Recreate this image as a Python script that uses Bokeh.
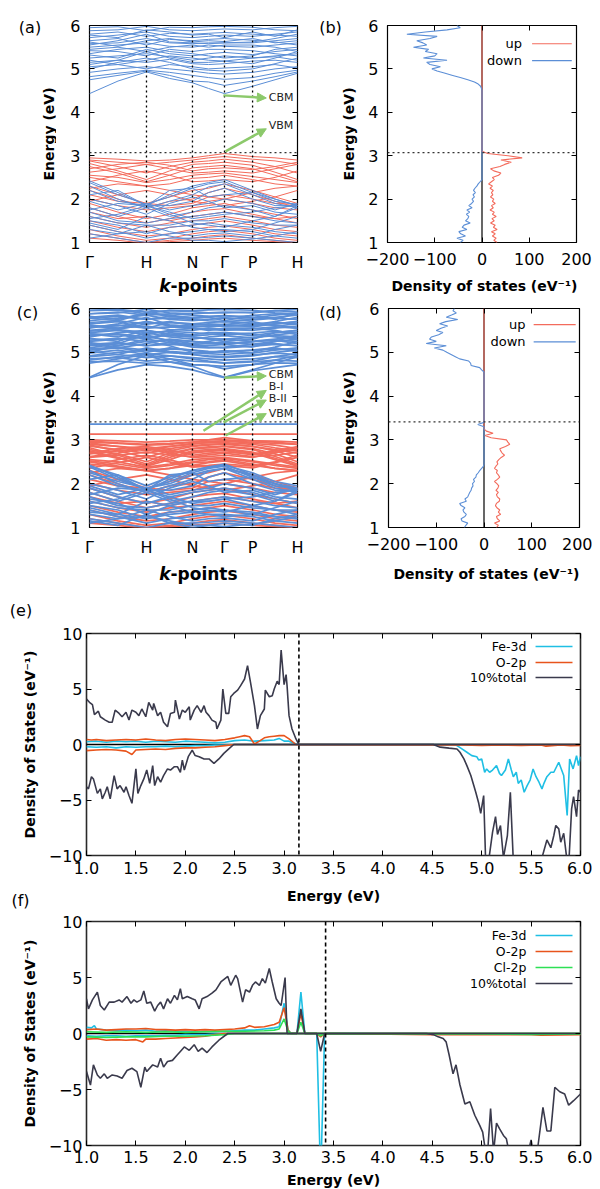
import numpy as np
from math import pi
from bokeh.plotting import figure
from bokeh.layouts import column, row
from bokeh.models import Span, Label, Arrow, NormalHead, FixedTicker, LinearAxis, NumeralTickFormatter
from bokeh.embed import file_html
from bokeh.resources import INLINE

FONT = "DejaVu Sans"
RED = "#f36b5c"
BLUE = "#5b8ed6"
GREEN = "#8cc96b"
CYAN = "#1fbfe4"
ORANGE = "#e8541c"
LIME = "#2de055"
DARK = "#3a3a4c"

# ---------------- band-structure data ----------------
k_nodes = [0.0, 0.137, 0.274, 0.385, 0.495, 0.572, 0.649, 0.784, 0.892, 1.0]
k_ticks = [0, 0.274, 0.495, 0.649, 0.784, 1]
k_labels = ["Γ", "H", "N", "Γ", "P", "H"]

bands_up_a = [
    [2.95, 2.92, 2.88, 2.90, 2.95, 3.00, 3.05, 2.98, 2.95, 2.90],
    [2.90, 2.85, 2.80, 2.85, 2.90, 2.95, 2.98, 2.92, 2.88, 2.80],
    [2.88, 2.75, 2.60, 2.75, 2.85, 2.88, 2.92, 2.85, 2.75, 2.60],
    [2.82, 2.65, 2.45, 2.65, 2.80, 2.82, 2.85, 2.78, 2.62, 2.45],
    [2.75, 2.60, 2.40, 2.55, 2.72, 2.75, 2.78, 2.70, 2.55, 2.40],
    [2.70, 2.80, 2.85, 2.78, 2.65, 2.70, 2.72, 2.68, 2.75, 2.85],
    [2.62, 2.70, 2.80, 2.70, 2.60, 2.62, 2.65, 2.60, 2.70, 2.80],
    [2.55, 2.50, 2.38, 2.45, 2.55, 2.58, 2.60, 2.52, 2.45, 2.38],
    [2.50, 2.40, 2.30, 2.35, 2.48, 2.50, 2.55, 2.45, 2.35, 2.30],
    [2.40, 2.55, 2.65, 2.55, 2.40, 2.42, 2.45, 2.40, 2.50, 2.65],
    [2.30, 2.10, 1.90, 2.05, 2.20, 2.25, 2.35, 2.20, 2.05, 1.90],
    [2.20, 2.00, 1.80, 1.95, 2.00, 2.15, 2.25, 2.10, 1.95, 1.80],
    [2.10, 1.95, 1.90, 1.85, 1.90, 2.05, 2.10, 2.00, 1.90, 1.88],
    [2.00, 1.85, 1.75, 1.80, 1.85, 1.95, 2.00, 1.90, 1.80, 1.75],
    [1.90, 1.70, 1.55, 1.65, 1.80, 1.85, 1.90, 1.75, 1.65, 1.55],
    [1.80, 1.60, 1.45, 1.55, 1.70, 1.75, 1.78, 1.65, 1.55, 1.45],
    [1.70, 1.55, 1.60, 1.50, 1.60, 1.65, 1.70, 1.60, 1.55, 1.60],
    [1.60, 1.45, 1.35, 1.45, 1.50, 1.55, 1.60, 1.50, 1.40, 1.35],
    [1.50, 1.35, 1.25, 1.35, 1.40, 1.45, 1.50, 1.40, 1.30, 1.25],
    [1.40, 1.25, 1.15, 1.20, 1.30, 1.35, 1.38, 1.30, 1.20, 1.15],
    [1.30, 1.15, 1.05, 1.10, 1.20, 1.25, 1.28, 1.20, 1.10, 1.05],
    [1.20, 1.10, 1.00, 1.05, 1.10, 1.15, 1.18, 1.10, 1.05, 1.00],
    [1.10, 1.05, 0.98, 1.02, 1.05, 1.08, 1.10, 1.05, 1.02, 0.98],
    [2.25, 2.35, 2.30, 2.20, 2.10, 2.05, 2.00, 2.15, 2.25, 2.30],
    [1.95, 2.10, 2.20, 2.10, 1.95, 1.90, 1.85, 1.95, 2.05, 2.20],
]

bands_dn_a = [
    # conduction (spin down)
    [4.43, 4.72, 4.93, 4.78, 4.68, 4.55, 4.43, 4.60, 4.75, 4.90],
    [4.75, 4.85, 4.95, 4.85, 4.72, 4.70, 4.62, 4.72, 4.82, 4.93],
    [4.82, 4.90, 4.97, 4.92, 4.85, 4.80, 4.76, 4.80, 4.90, 4.97],
    [4.92, 5.00, 5.05, 5.00, 4.95, 4.90, 4.88, 4.92, 5.00, 5.05],
    [5.05, 5.10, 5.00, 5.10, 5.05, 5.00, 5.02, 5.05, 5.10, 5.02],
    [5.15, 5.20, 5.15, 5.22, 5.12, 5.10, 5.12, 5.18, 5.20, 5.15],
    [5.25, 5.30, 5.35, 5.28, 5.20, 5.25, 5.30, 5.25, 5.30, 5.35],
    [5.32, 5.25, 5.45, 5.35, 5.30, 5.35, 5.38, 5.33, 5.40, 5.45],
    [5.42, 5.40, 5.30, 5.45, 5.40, 5.45, 5.45, 5.42, 5.35, 5.30],
    [5.50, 5.55, 5.60, 5.52, 5.50, 5.55, 5.52, 5.50, 5.55, 5.60],
    [5.58, 5.60, 5.70, 5.60, 5.58, 5.60, 5.60, 5.60, 5.65, 5.70],
    [5.65, 5.70, 5.55, 5.68, 5.65, 5.68, 5.70, 5.66, 5.62, 5.55],
    [5.72, 5.78, 5.85, 5.75, 5.72, 5.75, 5.78, 5.75, 5.80, 5.85],
    [5.80, 5.85, 5.75, 5.82, 5.80, 5.82, 5.84, 5.80, 5.78, 5.75],
    [5.88, 5.90, 5.98, 5.90, 5.88, 5.90, 5.92, 5.90, 5.95, 5.98],
    [5.95, 5.97, 5.88, 5.96, 5.95, 5.97, 5.98, 5.96, 5.90, 5.88],
    [5.00, 5.15, 5.25, 5.15, 5.00, 4.97, 4.95, 5.00, 5.12, 5.25],
    [5.35, 5.45, 5.50, 5.40, 5.35, 5.30, 5.25, 5.30, 5.45, 5.50],
    [5.20, 5.10, 5.20, 5.30, 5.25, 5.20, 5.18, 5.25, 5.28, 5.20],
    [5.45, 5.50, 5.40, 5.50, 5.55, 5.50, 5.55, 5.55, 5.50, 5.40],
    [5.62, 5.52, 5.65, 5.70, 5.62, 5.65, 5.63, 5.70, 5.60, 5.65],
    [5.78, 5.72, 5.90, 5.85, 5.78, 5.80, 5.72, 5.85, 5.75, 5.90],
    [5.10, 5.20, 5.40, 5.25, 5.15, 5.15, 5.18, 5.12, 5.25, 5.40],
    [5.55, 5.65, 5.80, 5.62, 5.60, 5.58, 5.60, 5.62, 5.70, 5.80],
    # valence (spin down)
    [2.42, 2.15, 1.85, 2.10, 2.30, 2.38, 2.45, 2.20, 2.00, 1.85],
    [2.38, 2.10, 1.88, 2.05, 2.25, 2.35, 2.40, 2.15, 1.95, 1.88],
    [2.30, 2.00, 1.80, 1.95, 2.10, 2.28, 2.35, 2.10, 1.90, 1.80],
    [2.20, 1.95, 1.85, 1.85, 1.95, 2.15, 2.25, 2.00, 1.85, 1.85],
    [2.10, 2.20, 1.85, 2.20, 2.25, 2.05, 2.10, 2.15, 2.00, 1.85],
    [1.95, 1.75, 1.90, 1.75, 1.85, 1.90, 2.00, 1.90, 1.75, 1.90],
    [1.80, 1.60, 1.80, 1.60, 1.70, 1.80, 1.85, 1.75, 1.60, 1.80],
    [1.70, 1.50, 1.45, 1.55, 1.60, 1.65, 1.70, 1.60, 1.50, 1.45],
    [1.60, 1.45, 1.40, 1.40, 1.50, 1.50, 1.55, 1.45, 1.40, 1.40],
    [1.50, 1.40, 1.20, 1.35, 1.40, 1.45, 1.40, 1.35, 1.25, 1.20],
    [1.40, 1.25, 1.10, 1.20, 1.25, 1.30, 1.30, 1.25, 1.15, 1.10],
    [1.30, 1.20, 1.40, 1.25, 1.15, 1.20, 1.22, 1.15, 1.30, 1.40],
    [1.20, 1.10, 1.00, 1.10, 1.10, 1.12, 1.15, 1.10, 1.05, 1.00],
    [1.75, 1.90, 1.85, 1.70, 1.55, 1.60, 1.65, 1.70, 1.80, 1.85],
    [1.55, 1.65, 1.85, 1.65, 1.45, 1.40, 1.35, 1.50, 1.60, 1.85],
    [2.00, 1.85, 1.65, 1.90, 2.05, 1.95, 1.80, 1.85, 1.70, 1.65],
    [1.45, 1.30, 1.60, 1.50, 1.35, 1.30, 1.25, 1.30, 1.45, 1.60],
    [1.10, 1.20, 1.25, 1.15, 1.05, 1.05, 1.02, 1.08, 1.15, 1.25],
]

extra_up_c = [
    [3.00, 2.98, 2.95, 2.97, 3.00, 3.00, 3.00, 2.98, 2.97, 2.95],
    [2.97, 2.93, 2.90, 2.92, 2.95, 2.96, 2.97, 2.95, 2.92, 2.90],
    [2.93, 2.85, 2.75, 2.85, 2.92, 2.93, 2.94, 2.90, 2.82, 2.75],
    [2.86, 2.78, 2.70, 2.80, 2.87, 2.90, 2.90, 2.85, 2.78, 2.70],
    [2.78, 2.68, 2.50, 2.70, 2.80, 2.84, 2.86, 2.80, 2.68, 2.50],
    [2.72, 2.58, 2.42, 2.60, 2.75, 2.78, 2.80, 2.72, 2.58, 2.42],
    [2.68, 2.75, 2.82, 2.74, 2.70, 2.74, 2.76, 2.66, 2.72, 2.82],
    [2.60, 2.65, 2.72, 2.66, 2.62, 2.66, 2.70, 2.62, 2.65, 2.72],
    [2.52, 2.45, 2.35, 2.42, 2.50, 2.55, 2.58, 2.50, 2.42, 2.35],
    [2.45, 2.38, 2.30, 2.35, 2.42, 2.48, 2.52, 2.42, 2.35, 2.30],
    [2.35, 2.48, 2.60, 2.50, 2.38, 2.40, 2.42, 2.36, 2.48, 2.60],
    [3.13, 3.13, 3.13, 3.13, 3.13, 3.13, 3.13, 3.13, 3.13, 3.13],
]

extra_dn_c = [
    [4.42, 4.60, 4.72, 4.68, 4.60, 4.50, 4.42, 4.58, 4.65, 4.72],
    [4.78, 4.80, 4.75, 4.78, 4.72, 4.70, 4.68, 4.72, 4.76, 4.75],
    [4.85, 4.88, 4.80, 4.85, 4.80, 4.78, 4.75, 4.78, 4.82, 4.80],
    [4.90, 4.95, 4.88, 4.92, 4.88, 4.85, 4.82, 4.85, 4.90, 4.88],
    [4.98, 5.05, 4.95, 5.00, 4.95, 4.92, 4.90, 4.94, 4.98, 4.95],
    [5.08, 5.12, 5.05, 5.08, 5.05, 5.02, 5.00, 5.05, 5.08, 5.05],
    [5.18, 5.22, 5.15, 5.18, 5.15, 5.12, 5.10, 5.14, 5.18, 5.15],
    [5.28, 5.32, 5.25, 5.28, 5.25, 5.22, 5.20, 5.24, 5.28, 5.25],
    [5.38, 5.42, 5.35, 5.38, 5.35, 5.32, 5.30, 5.34, 5.38, 5.35],
    [5.48, 5.52, 5.45, 5.48, 5.45, 5.42, 5.40, 5.44, 5.48, 5.45],
    [5.58, 5.62, 5.55, 5.58, 5.55, 5.52, 5.50, 5.54, 5.58, 5.55],
    [5.68, 5.72, 5.65, 5.68, 5.65, 5.62, 5.60, 5.64, 5.68, 5.65],
    [5.78, 5.82, 5.75, 5.78, 5.75, 5.72, 5.70, 5.74, 5.78, 5.75],
    [5.88, 5.92, 5.85, 5.88, 5.85, 5.82, 5.80, 5.84, 5.88, 5.85],
    [5.96, 5.98, 5.92, 5.95, 5.93, 5.90, 5.90, 5.92, 5.95, 5.92],
    [5.02, 4.95, 5.10, 5.02, 4.98, 5.00, 5.04, 4.98, 5.05, 5.10],
    [5.22, 5.15, 5.30, 5.22, 5.18, 5.20, 5.24, 5.18, 5.25, 5.30],
    [5.42, 5.35, 5.50, 5.42, 5.38, 5.40, 5.44, 5.38, 5.45, 5.50],
    [5.62, 5.55, 5.70, 5.62, 5.58, 5.60, 5.64, 5.58, 5.65, 5.70],
    [5.82, 5.75, 5.90, 5.82, 5.78, 5.80, 5.84, 5.78, 5.85, 5.90],
    [3.36, 3.36, 3.36, 3.36, 3.36, 3.36, 3.36, 3.36, 3.36, 3.36],
    [2.40, 2.20, 1.95, 2.15, 2.30, 2.38, 2.42, 2.25, 2.05, 1.95],
    [2.25, 2.05, 1.90, 2.00, 2.20, 2.30, 2.35, 2.20, 2.00, 1.90],
    [1.90, 1.70, 1.55, 1.70, 1.80, 1.85, 1.90, 1.80, 1.65, 1.55],
    [1.65, 1.55, 1.30, 1.50, 1.60, 1.60, 1.65, 1.50, 1.40, 1.30],
    [1.35, 1.30, 1.20, 1.30, 1.35, 1.38, 1.40, 1.30, 1.25, 1.20],
    [1.15, 1.05, 1.30, 1.10, 1.00, 1.05, 1.10, 1.05, 1.20, 1.30],
]

bands_up_c = bands_up_a + extra_up_c
bands_dn_c = bands_dn_a + extra_dn_c

ef_a = 3.07
ef_c = 3.41

# ---------------- spin-resolved DOS (b), (d) ----------------
E_grid = np.linspace(1.0, 6.0, 101)

dos_b_up = [32, 25, 30, 22, 28, 20, 32, 24, 28, 18,
            26, 21, 30, 22, 26, 17, 24, 20, 28, 22,
            25, 18, 23, 20, 24, 17, 22, 14, 20, 26,
            22, 35, 40, 25, 18, 38, 48, 62, 40, 85,
            55, 12, 0] + [0] * 58
dos_b_dn = ([-46, -40, -53, -35, -45, -49, -32, -42, -38, -25,
             -35, -30, -28, -33, -26, -32, -21, -28, -22, -18,
             -21, -16, -19, -14, -18, -15, -11, -8, -4, 0] + [0] * 41 +
            [-1, -3, -8, -16, -30, -46, -62, -78, -95, -106,
             -88, -110, -117, -74, -124, -100, -95, -120, -113, -145,
             -117, -125, -138, -110, -95, -159, -120, -74, -46, -53])

dos_d_up = [26, 30, 22, 33, 28, 26, 35, 30, 33, 27,
            24, 26, 32, 33, 28, 26, 30, 25, 29, 31,
            27, 22, 28, 33, 30, 26, 28, 22, 25, 29,
            27, 31, 36, 43, 38, 35, 33, 45, 54, 50,
            47, 15, 2, 19, 5, 0] + [0] * 55
dos_d_dn = ([-41, -38, -34, -46, -48, -40, -37, -42, -44, -40,
             -48, -51, -37, -40, -34, -32, -30, -27, -26, -23,
             -24, -20, -22, -17, -16, -12, -9, -5, -1, 0] + [0] * 17 + [-13, 0] + [0] * 23 +
            [-5, -9, -27, -28, -32, -51, -60, -69, -78, -86,
             -104, -79, -121, -100, -114, -110, -95, -86, -100, -90,
             -76, -93, -80, -55, -79, -68, -58, -65, -62])

# ---------------- projected DOS (e) ----------------
e_tot_up_E = [1.00, 1.03, 1.06, 1.08, 1.12, 1.14, 1.19, 1.23, 1.26, 1.29,
              1.33, 1.36, 1.40, 1.43, 1.46, 1.50, 1.53, 1.56, 1.60, 1.63,
              1.67, 1.68, 1.72, 1.75, 1.78, 1.82, 1.85, 1.89, 1.90, 1.94,
              1.97, 2.00, 2.04, 2.05, 2.09, 2.12, 2.16, 2.19, 2.21, 2.24,
              2.27, 2.31, 2.32, 2.36, 2.38, 2.41, 2.44, 2.46, 2.49, 2.53,
              2.56, 2.60, 2.63, 2.66, 2.70, 2.73, 2.76, 2.80, 2.81, 2.85,
              2.88, 2.90, 2.93, 2.95, 2.97, 3.00, 3.02, 3.03, 3.05, 3.08,
              3.12, 3.15, 6.00]
e_tot_up = [4.1, 3.8, 3.6, 2.7, 3.0, 2.5, 2.2, 2.0, 2.0, 3.1,
            2.8, 2.5, 2.9, 2.2, 3.1, 2.9, 2.6, 3.2, 2.5, 3.8,
            3.1, 3.7, 2.6, 2.9, 2.0, 1.6, 2.8, 2.9, 4.0, 2.3,
            3.1, 2.9, 3.4, 2.2, 3.1, 3.5, 2.9, 3.5, 2.9, 2.6,
            2.2, 2.0, 1.4, 2.2, 5.0, 2.8, 2.8, 4.3, 4.6, 4.9,
            5.3, 5.9, 7.1, 5.6, 3.5, 1.4, 2.6, 3.2, 4.9, 4.3,
            4.4, 5.0, 5.7, 5.4, 8.5, 5.4, 6.3, 5.3, 2.6, 1.4,
            0.5, 0.0, 0.0]
e_tot_dn_E = [1.00, 1.02, 1.05, 1.07, 1.11, 1.14, 1.16, 1.19, 1.21, 1.24,
              1.28, 1.31, 1.34, 1.38, 1.40, 1.43, 1.46, 1.50, 1.52, 1.55,
              1.58, 1.61, 1.64, 1.67, 1.69, 1.72, 1.75, 1.78, 1.82, 1.85,
              1.89, 1.92, 1.95, 1.97, 1.99, 2.03, 2.07, 2.10, 2.14, 2.19,
              2.24, 2.29, 2.34, 2.39, 2.44, 2.49, 4.51, 4.58, 4.67, 4.75,
              4.78, 4.82, 4.85, 4.89, 4.92, 4.94, 4.97, 4.99, 5.02, 5.04,
              5.07, 5.11, 5.14, 5.16, 5.19, 5.22, 5.26, 5.29, 5.32, 5.36,
              5.43, 5.49, 5.56, 5.61, 5.66, 5.70, 5.73, 5.75, 5.78, 5.80,
              5.83, 5.86, 5.88, 5.91, 5.93, 5.96, 5.98, 6.00]
e_tot_dn = [-3.8, -4.0, -2.9, -3.1, -4.4, -4.0, -4.9, -4.3, -3.8, -4.9,
            -2.8, -4.0, -3.7, -4.3, -3.8, -4.6, -5.3, -2.2, -4.4, -3.7,
            -3.1, -2.3, -3.5, -1.9, -3.7, -2.9, -3.4, -2.8, -2.2, -2.3,
            -2.0, -2.0, -2.5, -1.4, -2.3, -1.1, -0.5, -1.0, -1.1, -1.3,
            -1.3, -1.7, -1.3, -0.8, -0.4, 0.0, 0.0, -0.24, -0.33, -0.4,
            -0.7, -1.3, -1.9, -2.8, -3.7, -4.3, -5.3, -6.2, -4.6, -10.5,
            -10.5, -7.9, -6.5, -8.1, -7.3, -10.2, -8.2, -4.3, -10.5, -12.0,
            -11.0, -11.5, -10.3, -10.2, -8.6, -9.3, -8.2, -7.3, -7.6, -8.8,
            -8.0, -10.2, -11.0, -5.8, -4.7, -6.5, -4.1, -4.3]
e_fe_up_E = [1.0, 1.1, 1.2, 1.3, 1.4, 1.5, 1.6, 1.7, 1.8, 1.9, 2.0, 2.1, 2.2,
             2.3, 2.4, 2.5, 2.6, 2.7, 2.8, 2.9, 2.95, 3.0, 3.05, 3.1, 3.15, 6.0]
e_fe_up = [0.25, 0.3, 0.2, 0.3, 0.25, 0.3, 0.2, 0.3, 0.25, 0.2, 0.3, 0.25, 0.2,
           0.15, 0.2, 0.35, 0.4, 0.3, 0.35, 0.4, 0.55, 0.3, 0.3, 0.1, 0.0, 0.0]
e_fe_dn_E = [1.0, 1.1, 1.2, 1.3, 1.4, 1.5, 1.6, 1.7, 1.8, 1.9, 2.0, 2.1, 2.2, 2.3, 2.4, 2.5,
             4.72, 4.75, 4.8, 4.85, 4.9, 4.95, 4.97, 5.0, 5.03, 5.05, 5.08,
             5.11, 5.15, 5.18, 5.2, 5.24, 5.27, 5.3, 5.32, 5.35, 5.37,
             5.4, 5.43, 5.46, 5.49, 5.52, 5.55, 5.58, 5.61, 5.63, 5.66,
             5.7, 5.73, 5.78, 5.83, 5.865, 5.89, 5.925, 5.96, 5.98, 6.0]
e_fe_dn = [-0.2, -0.25, -0.2, -0.3, -0.2, -0.25, -0.2, -0.2, -0.15, -0.2, -0.15, -0.1, -0.1, -0.05, -0.05, 0.0,
           0.0, -0.1, -0.4, -0.7, -1.0, -1.1, -1.4, -1.3, -2.5, -2.2, -2.5,
           -2.3, -1.9, -2.6, -2.8, -2.3, -1.3, -2.3, -2.9, -2.5, -3.5,
           -3.2, -4.3, -3.7, -3.2, -2.2, -2.9, -3.4, -4.0, -3.5, -2.9,
           -2.5, -2.5, -1.6, -2.8, -6.4, -1.3, -2.2, -1.0, -1.9, -1.1]
e_o_up_E = [1.0, 1.05, 1.1, 1.2, 1.3, 1.4, 1.5, 1.6, 1.7, 1.8, 1.9, 2.0, 2.1, 2.2, 2.3,
            2.4, 2.5, 2.55, 2.6, 2.65, 2.7, 2.75, 2.8, 2.85, 2.9, 2.95, 3.0, 3.05, 3.12, 6.0]
e_o_up = [0.45, 0.4, 0.45, 0.35, 0.4, 0.45, 0.4, 0.5, 0.4, 0.35, 0.45, 0.5, 0.45, 0.4, 0.35,
          0.45, 0.6, 0.7, 0.8, 0.7, 0.05, 0.3, 0.6, 0.7, 0.75, 0.8, 0.8, 0.5, 0.0, 0.0]
e_o_dn_E = [1.0, 1.1, 1.2, 1.3, 1.4, 1.46, 1.5, 1.6, 1.7, 1.8, 1.9, 2.0, 2.1, 2.2, 2.3, 2.4, 2.5,
            4.8, 5.0, 5.2, 5.4, 5.6, 5.65, 5.8, 5.9, 6.0]
e_o_dn = [-0.55, -0.5, -0.45, -0.5, -0.6, -0.9, -0.5, -0.45, -0.4, -0.45, -0.35, -0.3, -0.3, -0.25, -0.2, -0.1, 0.0,
          -0.05, -0.08, -0.05, -0.08, -0.05, -0.15, -0.05, -0.1, -0.08]
ef_e = 3.15

# ---------------- projected DOS (f) ----------------
f_tot_up_E = [1.00, 1.02, 1.06, 1.11, 1.14, 1.18, 1.23, 1.28, 1.33, 1.36,
              1.41, 1.45, 1.48, 1.51, 1.55, 1.58, 1.61, 1.65, 1.69, 1.72,
              1.75, 1.78, 1.82, 1.85, 1.89, 1.92, 1.95, 1.97, 2.02, 2.07,
              2.10, 2.14, 2.17, 2.22, 2.27, 2.31, 2.36, 2.43, 2.46, 2.51,
              2.53, 2.58, 2.61, 2.65, 2.68, 2.71, 2.75, 2.78, 2.81, 2.85,
              2.88, 2.92, 2.95, 2.97, 3.01, 3.03, 3.13, 3.17, 3.21, 6.00]
f_tot_up = [3.1, 2.2, 3.0, 3.7, 2.5, 2.1, 2.8, 2.8, 3.0, 2.8,
            3.3, 2.7, 3.0, 2.8, 3.0, 3.8, 2.7, 2.8, 2.0, 2.5,
            2.8, 2.2, 3.1, 2.7, 3.4, 3.0, 4.0, 3.1, 3.3, 3.1,
            3.0, 2.2, 3.1, 3.3, 3.6, 3.9, 4.6, 5.1, 4.3, 5.2,
            4.9, 2.8, 3.9, 3.7, 4.3, 4.6, 4.3, 4.9, 4.5, 5.8,
            4.6, 3.1, 2.7, 2.5, 5.0, 0.0, 0.0, 2.2, 0.0, 0.0]
f_tot_dn_E = [1.00, 1.04, 1.07, 1.11, 1.14, 1.18, 1.21, 1.26, 1.31, 1.36,
              1.41, 1.46, 1.51, 1.55, 1.59, 1.61, 1.67, 1.72, 1.75, 1.78,
              1.82, 1.87, 1.92, 1.95, 1.99, 2.04, 2.09, 2.13, 2.17, 2.22,
              2.27, 2.34, 2.43, 3.33, 3.37, 3.41, 4.44, 4.51, 4.56, 4.61,
              4.64, 4.67, 4.71, 4.74, 4.78, 4.83, 4.88, 4.93, 4.98, 5.01,
              5.03, 5.06, 5.09, 5.12, 5.15, 5.18, 5.22, 5.25, 5.27, 5.32,
              5.39, 5.46, 5.50, 5.52, 5.57, 5.62, 5.66, 5.70, 5.74, 5.79,
              5.84, 5.88, 5.93, 6.00]
f_tot_dn = [-3.4, -4.6, -2.8, -3.7, -4.0, -3.6, -4.0, -3.7, -3.8, -4.0,
            -3.3, -3.1, -3.4, -4.8, -3.0, -3.4, -2.8, -3.0, -2.2, -3.0,
            -2.5, -2.4, -1.9, -1.6, -1.2, -1.5, -1.0, -1.6, -1.3, -1.7,
            -1.2, -0.6, 0.0, 0.0, -1.6, 0.0, 0.0, -0.1, -0.3, -0.45,
            -0.75, -1.9, -3.6, -2.8, -4.6, -6.3, -6.1, -7.3, -8.2, -8.8,
            -10.0, -10.6, -6.7, -10.6, -8.0, -8.5, -9.1, -9.4, -10.3, -11.0,
            -11.5, -11.0, -9.5, -10.6, -10.0, -6.6, -8.7, -8.7, -4.8, -5.2,
            -5.4, -6.4, -6.0, -5.4]
f_fe_up_E = [1.0, 1.05, 1.08, 1.1, 1.2, 1.3, 1.4, 1.5, 1.6, 1.7, 1.8, 1.9, 2.0, 2.1, 2.2,
             2.3, 2.4, 2.5, 2.6, 2.7, 2.8, 2.9, 2.95, 3.0, 3.04, 3.07, 3.13, 3.17, 3.21, 6.0]
f_fe_up = [0.55, 0.5, 0.7, 0.4, 0.3, 0.25, 0.3, 0.25, 0.3, 0.2, 0.25, 0.2, 0.2, 0.15, 0.2,
           0.15, 0.2, 0.25, 0.3, 0.3, 0.4, 0.5, 0.6, 2.7, 0.3, 0.0, 0.0, 3.7, 0.0, 0.0]
f_fe_dn_E = [1.0, 1.1, 1.2, 1.3, 1.4, 1.5, 1.6, 1.7, 1.8, 1.9, 2.0, 2.1, 2.2, 2.3, 2.4,
             3.33, 3.37, 3.41, 4.6, 5.0, 5.5, 6.0]
f_fe_dn = [-0.2, -0.25, -0.2, -0.2, -0.25, -0.2, -0.2, -0.2, -0.15, -0.15, -0.1, -0.1, -0.1, -0.05, 0.0,
           0.0, -13.0, 0.0, -0.05, -0.05, -0.05, -0.05]
f_o_up_E = [1.0, 1.1, 1.2, 1.3, 1.4, 1.5, 1.6, 1.7, 1.8, 1.9, 2.0, 2.1, 2.2, 2.3, 2.4,
            2.5, 2.6, 2.65, 2.7, 2.8, 2.9, 2.95, 3.0, 3.04, 3.07, 3.13, 3.17, 3.21, 6.0]
f_o_up = [0.35, 0.4, 0.3, 0.35, 0.4, 0.4, 0.45, 0.35, 0.35, 0.3, 0.35, 0.3, 0.35, 0.3, 0.35,
          0.4, 0.5, 0.7, 0.55, 0.6, 0.8, 1.0, 2.3, 0.3, 0.0, 0.0, 1.8, 0.0, 0.0]
f_o_dn_E = [1.0, 1.1, 1.2, 1.3, 1.4, 1.5, 1.57, 1.6, 1.7, 1.8, 1.9, 2.0, 2.1, 2.2, 2.3, 2.4,
            3.33, 3.37, 3.41, 4.5, 5.0, 5.5, 5.6, 6.0]
f_o_dn = [-0.5, -0.45, -0.6, -0.55, -0.6, -0.55, -0.75, -0.5, -0.5, -0.45, -0.4, -0.35, -0.3, -0.25, -0.1, 0.0,
          0.0, -0.3, 0.0, -0.1, -0.1, -0.1, -0.15, -0.1]
f_cl_up_E = [1.0, 1.2, 1.4, 1.6, 1.8, 2.0, 2.2, 2.4, 2.6, 2.8, 2.9, 2.95, 3.0, 3.04, 3.07, 3.13, 3.17, 3.21, 6.0]
f_cl_up = [0.15, 0.1, 0.15, 0.1, 0.15, 0.1, 0.15, 0.2, 0.2, 0.25, 0.3, 0.4, 1.3, 0.2, 0.0, 0.0, 1.0, 0.0, 0.0]
f_cl_dn_E = [1.0, 1.2, 1.4, 1.6, 1.8, 2.0, 2.2, 2.4, 2.5, 3.33, 3.37, 3.41, 4.5, 5.0, 5.5, 6.0]
f_cl_dn = [-0.3, -0.35, -0.3, -0.3, -0.25, -0.25, -0.2, -0.1, 0.0, 0.0, -0.2, 0.0, -0.05, -0.05, -0.08, -0.05]
ef_f = 3.42


# ---------------- helpers ----------------
def make_fig(fw, fh, bl, br, bt, bb, xr, yr):
    p = figure(frame_width=fw, frame_height=fh, min_border_left=bl, min_border_right=br,
               min_border_top=bt, min_border_bottom=bb, x_range=xr, y_range=yr,
               output_backend="svg", toolbar_location=None,
               background_fill_color="white", border_fill_color="white")
    p.grid.visible = False
    p.outline_line_color = "black"
    p.outline_line_width = 1.2
    p.outline_line_alpha = 1.0
    return p


def strip(w, h):
    # text-only strip; x/y ranges are in pixels from its top-left corner
    s = figure(width=w, height=h, x_range=(0, w), y_range=(h, 0), min_border=0,
               x_axis_type=None, y_axis_type=None, output_backend="svg",
               toolbar_location=None, border_fill_color="white")
    s.grid.visible = False
    s.outline_line_color = None
    return s


def style_axes(p, fs="16px"):
    for ax in p.axis:
        ax.axis_line_color = None
        ax.major_tick_in = 5
        ax.major_tick_out = 0
        ax.minor_tick_line_color = None
        ax.major_tick_line_color = "black"
        ax.major_label_text_font = FONT
        ax.major_label_text_font_size = fs
        ax.major_label_text_color = "black"
        ax.axis_label_text_font = FONT
        ax.axis_label_text_font_size = "14px"
        ax.axis_label_text_font_style = "bold"
        ax.axis_label_text_color = "black"


def mirror(p, side, ticks):
    ax = LinearAxis(ticker=FixedTicker(ticks=ticks), axis_line_color=None, major_tick_in=5,
                    major_tick_out=0, minor_tick_line_color=None,
                    major_label_text_font_size="0px", major_label_text_alpha=0,
                    major_label_text_color=None, major_label_standoff=0)
    p.add_layout(ax, side)


def text(p, x, y, s, size="16px", align="center", style="normal", color="black", angle=0.0):
    p.add_layout(Label(x=x, y=y, text=s, text_align=align, text_baseline="middle",
                       text_font=FONT, text_font_size=size, text_font_style=style,
                       text_color=color, angle=angle))


def legend(p, items, x_text, x0, x1, ys, size="13px", lw=1.3):
    for (name, col), y in zip(items, ys):
        text(p, x_text, y, name, size=size, align="right")
        p.add_layout(Arrow(end=None, x_start=x0, y_start=y, x_end=x1, y_end=y,
                           line_color=col, line_width=lw))


def green_arrow(p, x0, y0, x1, y1):
    p.add_layout(Arrow(end=NormalHead(size=9, fill_color=GREEN, line_color=GREEN),
                       x_start=x0, y_start=y0, x_end=x1, y_end=y1,
                       line_color=GREEN, line_width=2.5))


def band_panel(bands_up, bands_dn, ef, bt, fh, bb, lw):
    p = make_fig(208, fh, 33, 11, bt, bb, (0, 1), (1, 6))
    p.multi_line([k_nodes] * len(bands_up), bands_up, line_color=RED, line_width=lw)
    p.multi_line([k_nodes] * len(bands_dn), bands_dn, line_color=BLUE, line_width=lw)
    for kx in k_ticks[1:-1]:
        p.add_layout(Span(location=kx, dimension="height", line_color="black",
                          line_dash="2 3", line_width=1.3))
    p.add_layout(Span(location=ef, dimension="width", line_color="#333333",
                      line_dash="2 3", line_width=1.3))
    p.xaxis.ticker = FixedTicker(ticks=k_ticks)
    p.xaxis.major_label_overrides = {t: l for t, l in zip(k_ticks, k_labels)}
    p.yaxis.ticker = FixedTicker(ticks=[1, 2, 3, 4, 5, 6])
    style_axes(p)
    p.xaxis.major_tick_in = 0
    p.xaxis.major_label_standoff = 10
    p.yaxis.major_label_standoff = 9
    mirror(p, "right", [1, 2, 3, 4, 5, 6])
    return p


def dos_panel(up, dn, ef, bl, fw, br, bt, fh, bb, leg_ys, leg_x):
    p = make_fig(fw, fh, bl, br, bt, bb, (-200, 200), (1, 6))
    p.add_layout(Span(location=0, dimension="height", line_color="black", line_width=1.2,
                      level="underlay"))
    p.line(up, E_grid, line_color=RED, line_width=1.1)
    p.line(dn, E_grid, line_color=BLUE, line_width=1.1)
    p.add_layout(Span(location=ef, dimension="width", line_color="#333333",
                      line_dash="2 3", line_width=1.3))
    p.xaxis.ticker = FixedTicker(ticks=[-200, -100, 0, 100, 200])
    p.yaxis.ticker = FixedTicker(ticks=[1, 2, 3, 4, 5, 6])
    style_axes(p)
    p.xaxis.major_label_standoff = 10
    p.yaxis.major_label_standoff = 9
    mirror(p, "right", [1, 2, 3, 4, 5, 6])
    mirror(p, "above", [-200, -100, 0, 100, 200])
    legend(p, [("up", RED), ("down", BLUE)], leg_x[0], leg_x[1], leg_x[2], leg_ys, size="13px", lw=1.2)
    return p


def pdos_panel(series, ef, bt, fh, bb, leg_items, leg_ys, standoff):
    p = make_fig(494, fh, 86, 12, bt, bb, (1, 6), (-10, 10))
    p.add_layout(Span(location=0, dimension="width", line_color="black", line_width=1.5,
                      level="underlay"))
    for xs, ys, col in series:
        p.line(xs, ys, line_color=col, line_width=1.6)
    p.add_layout(Span(location=ef, dimension="height", line_color="black",
                      line_dash="4 3", line_width=1.6))
    p.outline_line_color = "#2a2a2a"
    p.outline_line_width = 1.6
    p.xaxis.ticker = FixedTicker(ticks=[1.0, 1.5, 2.0, 2.5, 3.0, 3.5, 4.0, 4.5, 5.0, 5.5, 6.0])
    p.xaxis.formatter = NumeralTickFormatter(format="0.0")
    p.yaxis.ticker = FixedTicker(ticks=[-10, -5, 0, 5, 10])
    p.yaxis.axis_label = "Density of States (eV⁻¹)"
    style_axes(p, fs="16px")
    p.xaxis.major_label_standoff = standoff
    p.yaxis.major_label_standoff = 4
    p.yaxis.axis_label_standoff = 8
    mirror(p, "right", [-10, -5, 0, 5, 10])
    mirror(p, "above", [1.0, 1.5, 2.0, 2.5, 3.0, 3.5, 4.0, 4.5, 5.0, 5.5, 6.0])
    legend(p, leg_items, 5.453, 5.545, 5.919, leg_ys, size="12.5px", lw=1.6)
    return p


def kpoints(s, y):
    text(s, 170, y, "k", size="17px", align="right", style="bold italic")
    text(s, 170, y, "-points", size="17px", align="left", style="bold")


def ylabel(s, x, y):
    text(s, x, y, "Energy (eV)", size="14px", style="bold", angle=pi / 2)


W = 592  # full page width used by the layout

# ---------------- row 1: (a), (b) ----------------
sa = strip(56, 274)
text(sa, 29.5, 27, "(a)")
ylabel(sa, 48, 133.5)
pa = band_panel(bands_up_a, bands_dn_a, ef_a, 25, 217, 32, 1.0)
green_arrow(pa, 0.644, 4.39, 0.85, 4.33)
green_arrow(pa, 0.654, 3.10, 0.85, 3.62)
text(pa, 0.862, 4.34, "CBM", size="11px", align="left", color="#222222")
text(pa, 0.862, 3.70, "VBM", size="11px", align="left", color="#222222")
sb = strip(57, 274)
text(sb, 22, 27, "(b)")
ylabel(sb, 40, 133.5)
pb = dos_panel(dos_b_up, dos_b_dn, ef_a, 22, 189, 16, 25, 217, 32,
               [5.58, 5.19], (84.6, 106, 190))
s1 = strip(W, 22)
kpoints(s1, 11)
text(s1, 484, 11, "Density of states (eV⁻¹)", size="14px", style="bold")

# ---------------- row 2: (c), (d) ----------------
sc = strip(56, 264)
text(sc, 27, 16, "(c)")
ylabel(sc, 48, 121.5)
pc = band_panel(bands_up_c, bands_dn_c, ef_c, 12, 219, 33, 1.7)
green_arrow(pc, 0.649, 4.42, 0.85, 4.46)
green_arrow(pc, 0.548, 3.21, 0.85, 4.13)
green_arrow(pc, 0.644, 3.40, 0.85, 3.91)
green_arrow(pc, 0.654, 3.10, 0.85, 3.60)
text(pc, 0.862, 4.49, "CBM", size="11px", align="left", color="#222222")
text(pc, 0.862, 4.21, "B-I", size="11px", align="left", color="#222222")
text(pc, 0.862, 3.95, "B-II", size="11px", align="left", color="#222222")
text(pc, 0.862, 3.60, "VBM", size="11px", align="left", color="#222222")
sd = strip(57, 264)
text(sd, 22, 16, "(d)")
ylabel(sd, 40, 121.5)
pd_ = dos_panel(dos_d_up, dos_d_dn, ef_c, 23, 191, 13, 12, 219, 33,
                [5.63, 5.24], (87, 104, 192))
s2 = strip(W, 30)
kpoints(s2, 13)
text(s2, 486, 13, "Density of states (eV⁻¹)", size="14px", style="bold")

# ---------------- (e) ----------------
se = strip(W, 32)
text(se, 20.5, 20, "(e)")
pe = pdos_panel([(e_fe_up_E, e_fe_up, CYAN), (e_fe_dn_E, e_fe_dn, CYAN),
                 (e_o_up_E, e_o_up, ORANGE), (e_o_dn_E, e_o_dn, ORANGE),
                 (e_tot_up_E, e_tot_up, DARK), (e_tot_dn_E, e_tot_dn, DARK)],
                ef_e, 11, 222, 28,
                [("Fe-3d", CYAN), ("O-2p", ORANGE), ("10%total", DARK)], [8.83, 7.39, 6.04], 6)
sef = strip(W, 29)
text(sef, 333, 12, "Energy (eV)", size="14px", style="bold")
text(sef, 20, 17, "(f)")

# ---------------- (f) ----------------
pf = pdos_panel([(f_fe_up_E, f_fe_up, CYAN), (f_fe_dn_E, f_fe_dn, CYAN),
                 (f_o_up_E, f_o_up, ORANGE), (f_o_dn_E, f_o_dn, ORANGE),
                 (f_cl_up_E, f_cl_up, LIME), (f_cl_dn_E, f_cl_dn, LIME),
                 (f_tot_up_E, f_tot_up, DARK), (f_tot_dn_E, f_tot_dn, DARK)],
                ef_f, 9, 224, 24,
                [("Fe-3d", CYAN), ("O-2p", ORANGE), ("Cl-2p", LIME), ("10%total", DARK)],
                [8.75, 7.32, 5.89, 4.46], 5)
sf = strip(W, 19)
text(sf, 333, 10, "Energy (eV)", size="14px", style="bold")

# strips are wrapped in their own containers so that the layout does not
# align their (border-less) frames with the frames of the neighbouring plots
layout = column(
    row(column(sa), pa, column(sb), pb),
    row(s1),
    row(column(sc), pc, column(sd), pd_),
    row(s2),
    row(se),
    pe,
    row(sef),
    pf,
    row(sf),
)
open("out.html", "w").write(file_html(layout, INLINE))
